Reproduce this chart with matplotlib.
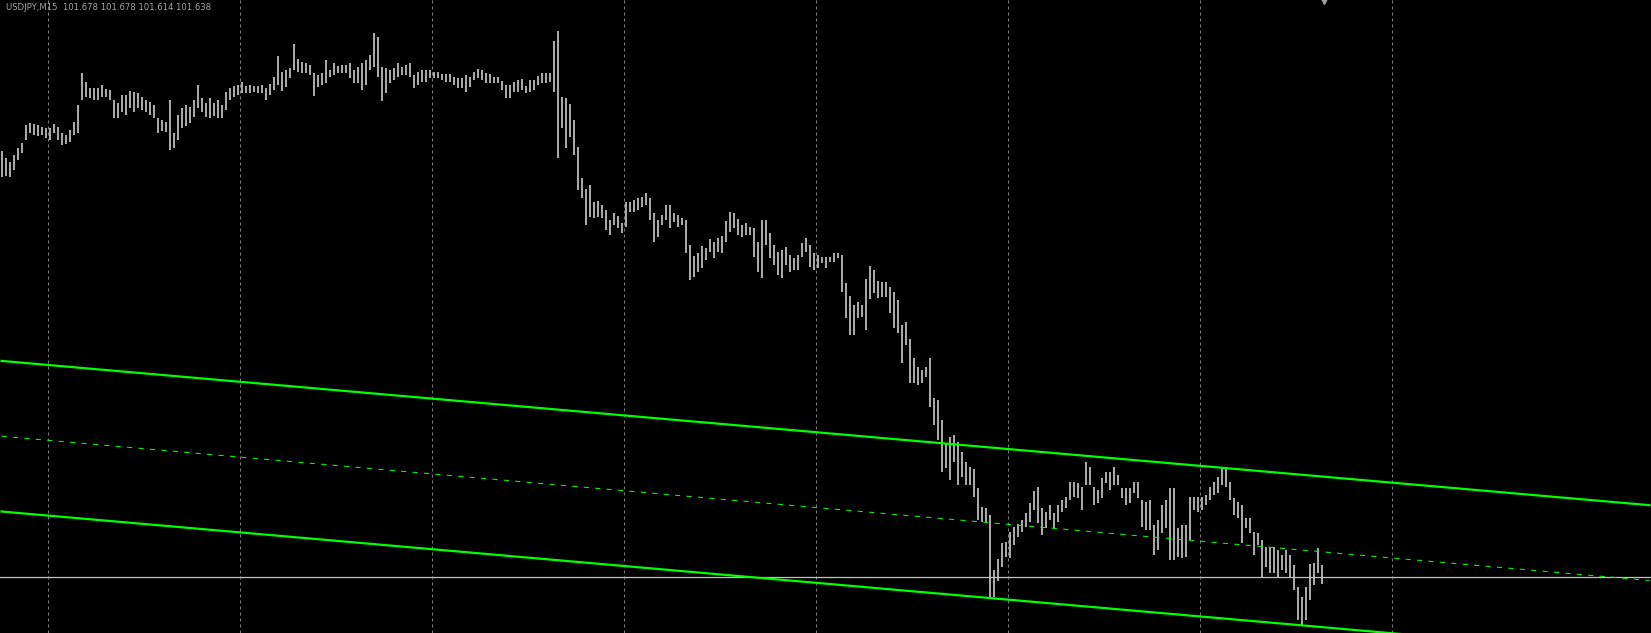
import numpy as np
import matplotlib
matplotlib.use("Agg")
import matplotlib.pyplot as plt

symbol = "USDJPY,M15"
last_ohlc = [101.678, 101.678, 101.614, 101.638]
bid = 101.638

highs = [
    103.058, 103.034, 103.021, 103.044, 103.068, 103.084, 103.144, 103.151, 103.148, 103.144,
    103.138, 103.134, 103.134, 103.148, 103.138, 103.118, 103.111, 103.128, 103.154, 103.211,
    103.318, 103.288, 103.268, 103.268, 103.268, 103.278, 103.264, 103.261, 103.228, 103.218,
    103.244, 103.244, 103.258, 103.254, 103.251, 103.238, 103.228, 103.221, 103.211, 103.168,
    103.161, 103.154, 103.228, 103.118, 103.178, 103.201, 103.211, 103.204, 103.228, 103.278,
    103.234, 103.218, 103.234, 103.218, 103.228, 103.211, 103.254, 103.268, 103.274, 103.278,
    103.288, 103.274, 103.278, 103.274, 103.274, 103.278, 103.268, 103.281, 103.304, 103.374,
    103.321, 103.328, 103.334, 103.414, 103.364, 103.354, 103.351, 103.344, 103.318, 103.311,
    103.318, 103.361, 103.328, 103.351, 103.341, 103.344, 103.344, 103.351, 103.328, 103.338,
    103.351, 103.361, 103.378, 103.451, 103.438, 103.338, 103.334, 103.328, 103.334, 103.351,
    103.338, 103.344, 103.351, 103.311, 103.321, 103.328, 103.328, 103.328, 103.321, 103.321,
    103.314, 103.314, 103.314, 103.304, 103.301, 103.301, 103.311, 103.304, 103.321, 103.331,
    103.328, 103.318, 103.314, 103.304, 103.304, 103.291, 103.278, 103.278, 103.288, 103.294,
    103.298, 103.274, 103.294, 103.294, 103.308, 103.318, 103.318, 103.318, 103.424, 103.458,
    103.238, 103.234, 103.214, 103.161, 103.071, 102.968, 102.931, 102.944, 102.888, 102.891,
    102.878, 102.861, 102.828, 102.851, 102.841, 102.818, 102.888, 102.888, 102.894, 102.901,
    102.904, 102.918, 102.901, 102.851, 102.828, 102.844, 102.878, 102.878, 102.851, 102.844,
    102.834, 102.828, 102.744, 102.708, 102.718, 102.741, 102.734, 102.764, 102.754, 102.768,
    102.774, 102.824, 102.854, 102.851, 102.831, 102.811, 102.818, 102.804, 102.801, 102.754,
    102.828, 102.828, 102.784, 102.744, 102.721, 102.728, 102.738, 102.711, 102.701, 102.711,
    102.751, 102.768, 102.744, 102.718, 102.711, 102.704, 102.704, 102.704, 102.718, 102.718,
    102.711, 102.618, 102.574, 102.544, 102.554, 102.544, 102.631, 102.674, 102.661, 102.624,
    102.621, 102.621, 102.604, 102.588, 102.561, 102.478, 102.488, 102.431, 102.368, 102.338,
    102.328, 102.338, 102.368, 102.234, 102.228, 102.161, 102.084, 102.104, 102.111, 102.088,
    102.054, 102.021, 102.004, 101.998, 101.934, 101.871, 101.868, 101.844, 101.661, 101.698,
    101.751, 101.754, 101.788, 101.804, 101.814, 101.828, 101.851, 101.884, 101.924, 101.938,
    101.868, 101.854, 101.878, 101.851, 101.878, 101.894, 101.904, 101.954, 101.954, 101.951,
    101.938, 102.021, 102.004, 101.938, 101.928, 101.968, 101.988, 101.988, 102.004, 101.978,
    101.934, 101.934, 101.934, 101.954, 101.954, 101.894, 101.888, 101.894, 101.811, 101.828,
    101.878, 101.894, 101.934, 101.934, 101.801, 101.811, 101.811, 101.904, 101.904, 101.904,
    101.904, 101.911, 101.938, 101.954, 101.971, 102.001, 101.998, 101.954, 101.901, 101.888,
    101.878, 101.834, 101.834, 101.788, 101.784, 101.761, 101.738, 101.738, 101.738, 101.728,
    101.711, 101.728, 101.711, 101.678, 101.604, 101.571, 101.604, 101.681, 101.684, 101.734,
    101.678,
]

lows = [
    102.971, 102.974, 102.971, 102.994, 103.028, 103.051, 103.094, 103.118, 103.111, 103.108,
    103.111, 103.101, 103.094, 103.118, 103.094, 103.078, 103.081, 103.088, 103.111, 103.118,
    103.228, 103.238, 103.234, 103.228, 103.228, 103.238, 103.238, 103.228, 103.168, 103.168,
    103.188, 103.178, 103.201, 103.188, 103.201, 103.194, 103.188, 103.178, 103.168, 103.118,
    103.124, 103.121, 103.061, 103.068, 103.094, 103.134, 103.141, 103.151, 103.171, 103.201,
    103.188, 103.171, 103.168, 103.174, 103.168, 103.168, 103.194, 103.228, 103.238, 103.244,
    103.251, 103.251, 103.251, 103.254, 103.251, 103.251, 103.228, 103.244, 103.261, 103.278,
    103.258, 103.271, 103.301, 103.328, 103.321, 103.318, 103.318, 103.311, 103.241, 103.271,
    103.278, 103.284, 103.304, 103.311, 103.318, 103.318, 103.318, 103.301, 103.284, 103.284,
    103.261, 103.278, 103.328, 103.338, 103.304, 103.224, 103.251, 103.284, 103.294, 103.304,
    103.311, 103.311, 103.304, 103.268, 103.278, 103.288, 103.288, 103.301, 103.301, 103.301,
    103.294, 103.288, 103.288, 103.278, 103.268, 103.268, 103.254, 103.271, 103.294, 103.301,
    103.294, 103.284, 103.284, 103.284, 103.284, 103.261, 103.234, 103.234, 103.254, 103.254,
    103.261, 103.251, 103.254, 103.261, 103.278, 103.284, 103.284, 103.288, 103.254, 103.034,
    103.134, 103.068, 103.104, 103.044, 102.928, 102.901, 102.811, 102.838, 102.834, 102.838,
    102.834, 102.794, 102.778, 102.811, 102.801, 102.784, 102.804, 102.854, 102.854, 102.861,
    102.871, 102.878, 102.828, 102.754, 102.771, 102.811, 102.828, 102.801, 102.821, 102.804,
    102.811, 102.718, 102.628, 102.638, 102.654, 102.668, 102.694, 102.721, 102.701, 102.721,
    102.718, 102.754, 102.788, 102.801, 102.778, 102.771, 102.778, 102.778, 102.704, 102.654,
    102.634, 102.744, 102.701, 102.678, 102.644, 102.634, 102.678, 102.654, 102.661, 102.661,
    102.704, 102.721, 102.671, 102.661, 102.668, 102.684, 102.668, 102.688, 102.688, 102.701,
    102.588, 102.501, 102.444, 102.444, 102.501, 102.504, 102.461, 102.564, 102.584, 102.568,
    102.571, 102.571, 102.518, 102.468, 102.451, 102.351, 102.411, 102.284, 102.284, 102.278,
    102.284, 102.304, 102.204, 102.144, 102.094, 101.988, 102.001, 101.961, 102.021, 101.944,
    101.971, 101.944, 101.944, 101.904, 101.828, 101.821, 101.821, 101.571, 101.571, 101.624,
    101.671, 101.704, 101.701, 101.744, 101.771, 101.788, 101.804, 101.821, 101.861, 101.818,
    101.778, 101.801, 101.828, 101.801, 101.821, 101.854, 101.868, 101.894, 101.904, 101.901,
    101.861, 101.944, 101.944, 101.878, 101.884, 101.901, 101.951, 101.928, 101.944, 101.944,
    101.901, 101.878, 101.884, 101.918, 101.901, 101.804, 101.794, 101.794, 101.711, 101.728,
    101.784, 101.801, 101.694, 101.694, 101.704, 101.701, 101.704, 101.761, 101.861, 101.854,
    101.861, 101.878, 101.894, 101.911, 101.918, 101.944, 101.938, 101.894, 101.844, 101.834,
    101.751, 101.801, 101.784, 101.711, 101.744, 101.638, 101.671, 101.651, 101.651, 101.638,
    101.661, 101.651, 101.638, 101.594, 101.494, 101.478, 101.494, 101.561, 101.611, 101.651,
    101.614,
]

# regression channel: middle line from bar 0 to bar 412, +/- deviation
channel_bars = [0, 412]
channel_mid = [102.107, 101.626]
channel_dev = 0.251

bars = np.arange(len(highs))

fig = plt.figure(figsize=(16.51, 6.33), dpi=100, facecolor="black")
ax = fig.add_axes([0, 0, 1, 1])
ax.set_facecolor("black")
ax.set_xlim(-0.375, 412.375)
ax.set_ylim(101.451, 103.561)
ax.axis("off")

# day separators
for gx in np.arange(11.7, 380, 48):
    ax.axvline(gx, color="#7a7a7a", lw=0.72, linestyle=(0, (3, 3)), zorder=1)

ax.vlines(bars, lows, highs, color="#a8a8a8", lw=1.44, antialiased=False, zorder=2)

ax.axhline(bid, color="#c0c0c0", lw=0.9, zorder=3)

cb = np.array(channel_bars)
cm = np.array(channel_mid)
ax.plot(cb, cm + channel_dev, color="#00ff00", lw=1.6, zorder=4)
ax.plot(cb, cm - channel_dev, color="#00ff00", lw=1.6, zorder=4)
ax.plot(cb, cm, color="#00ff00", lw=0.75, linestyle=(0, (5, 6)), zorder=4)

# chart shift marker
ax.plot([330.5], [103.561], marker="v", color="#a0a0a0", markersize=6,
        clip_on=False, zorder=5)

header = symbol + "  " + " ".join(f"{v:.3f}" for v in last_ohlc)
fig.text(6 / 1651, 1 - 3 / 633, header, color="#a0a4a8", fontsize=6.1,
         family="DejaVu Sans", ha="left", va="top")

fig.savefig("out.png", dpi=100, facecolor="black")
